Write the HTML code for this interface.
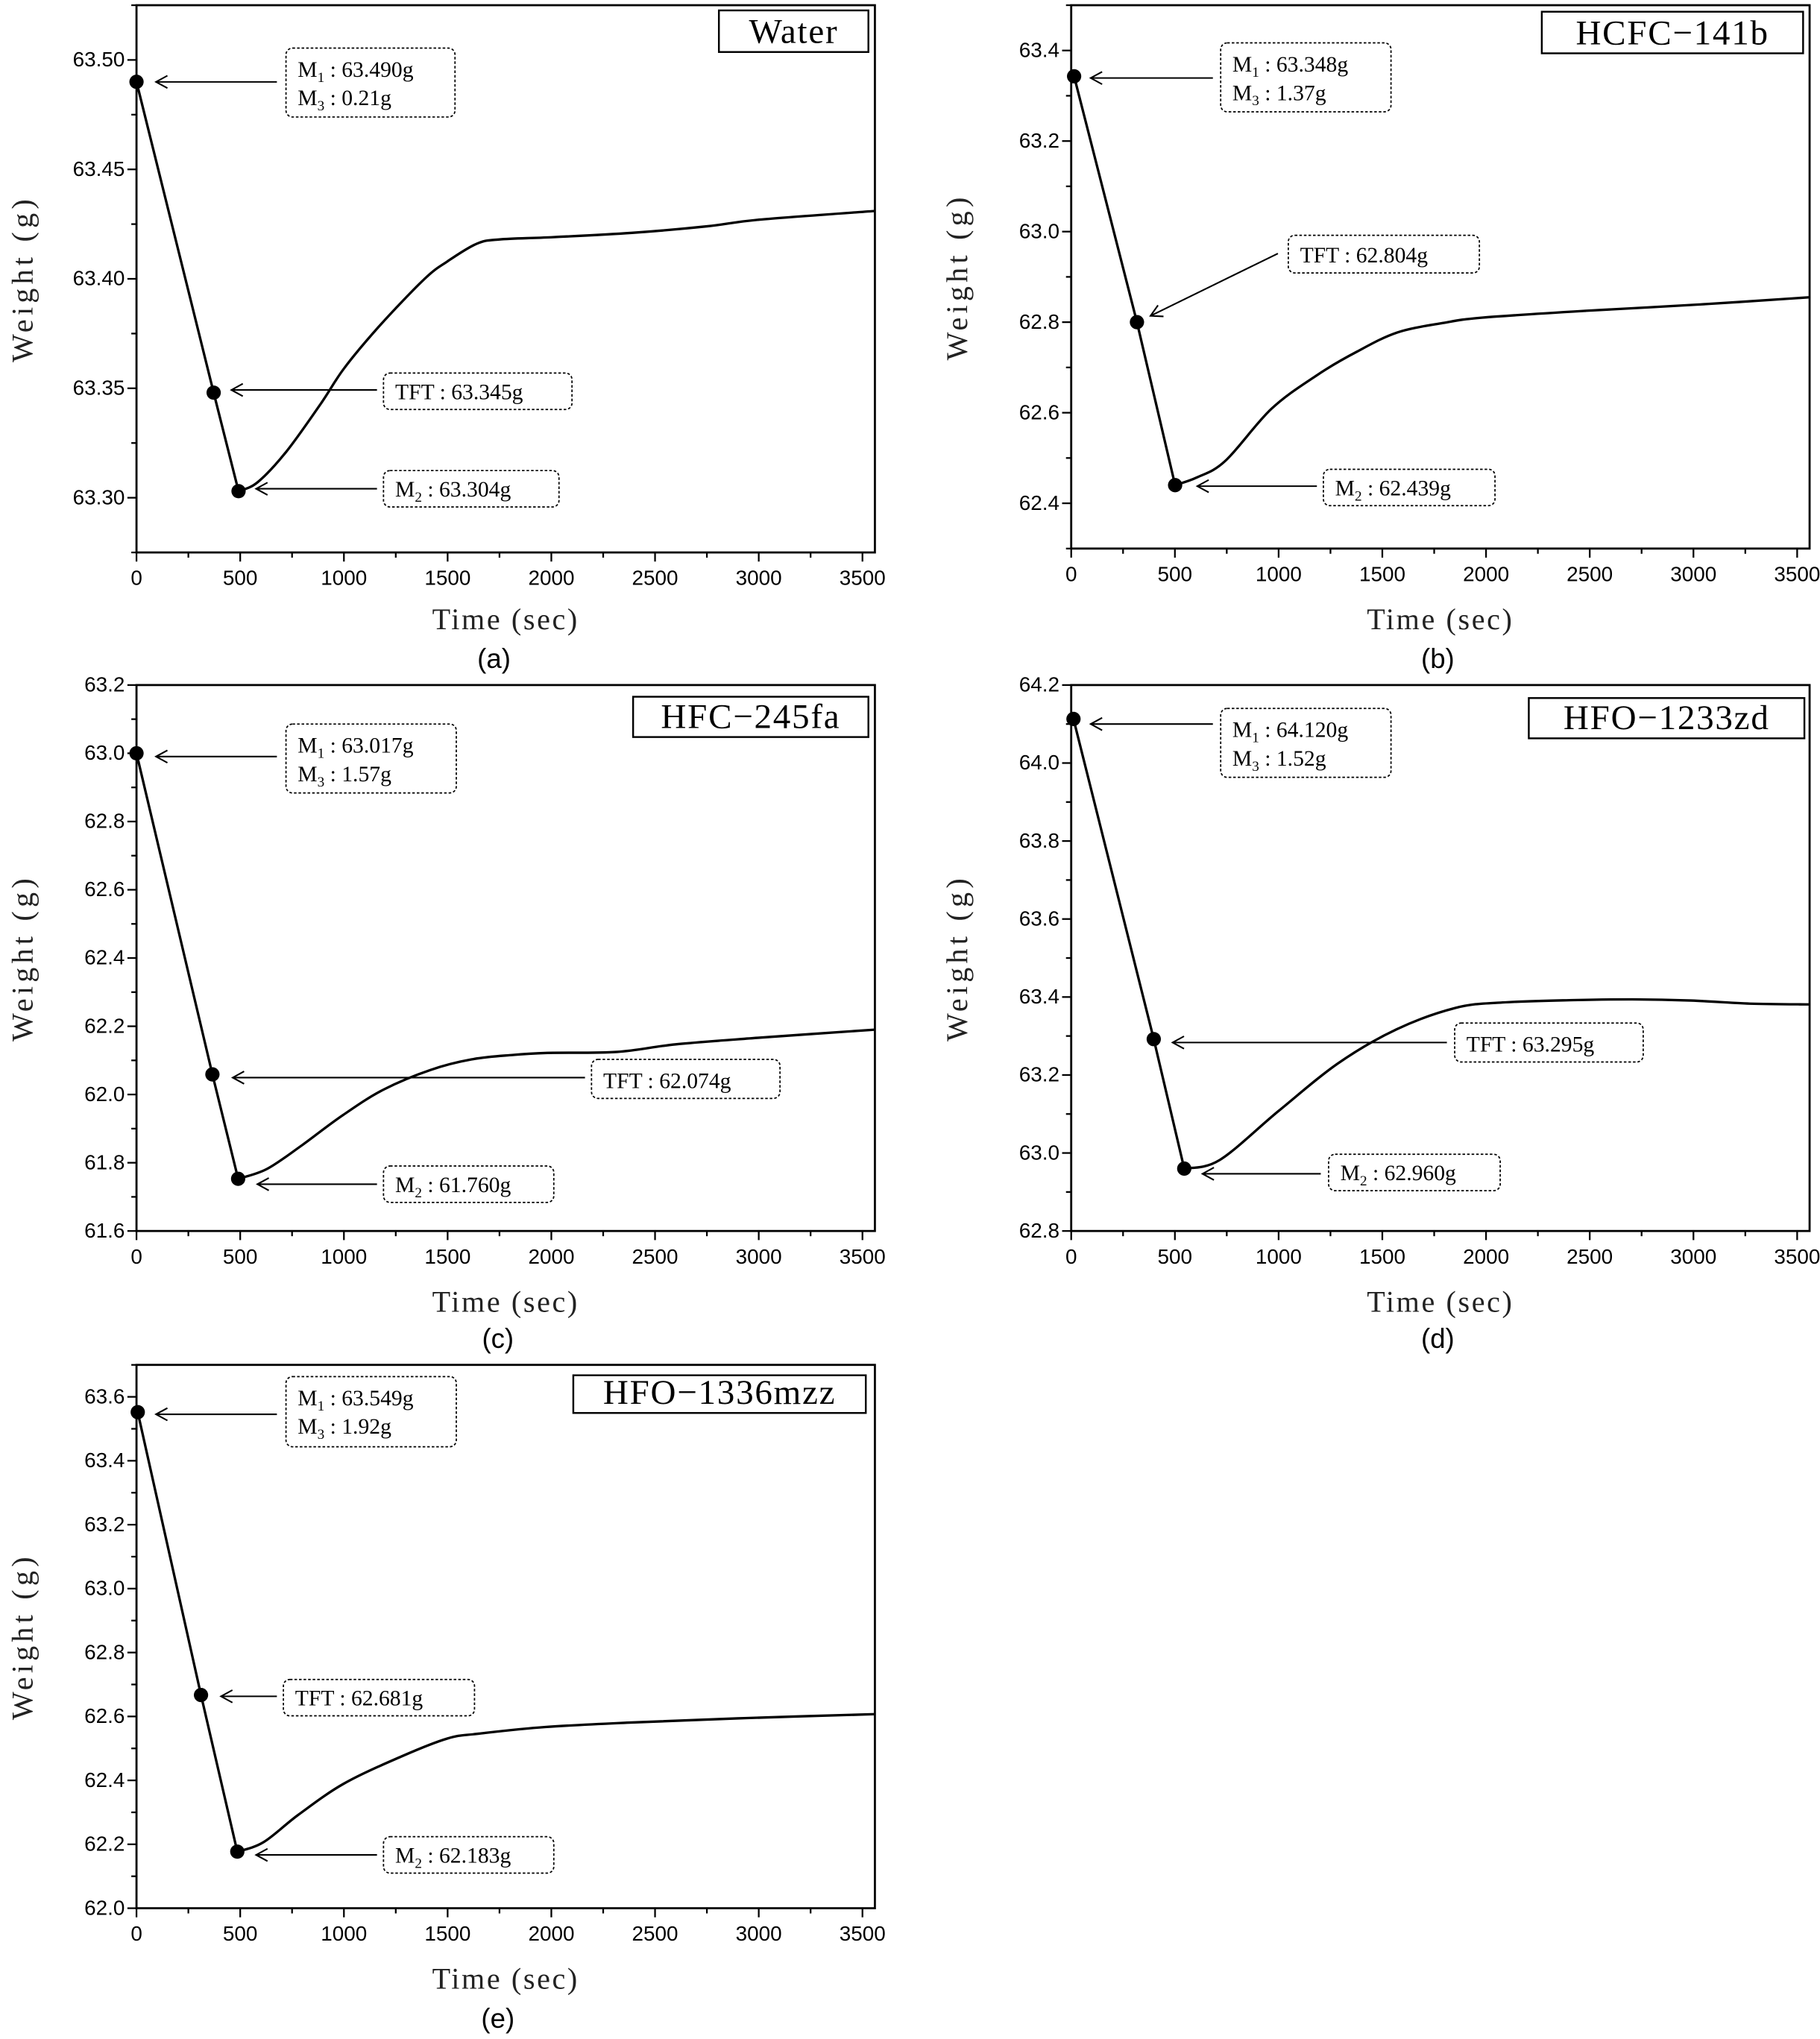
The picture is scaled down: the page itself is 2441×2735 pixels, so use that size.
<!DOCTYPE html>
<html><head><meta charset="utf-8"><style>
html,body{margin:0;padding:0;background:#fff;}
svg{display:block;}
</style></head><body>
<svg id="chart" width="2441" height="2735" viewBox="0 0 1400 1568.6" xmlns="http://www.w3.org/2000/svg"></svg>
<script>
// ---- data (time in sec, weight in g) ----
const aTime   = [0, 372, 492, 583, 722, 889, 1000, 1167, 1389, 1500, 1639, 1750, 2000, 2389, 2750, 3000, 3560];
const aWeight = [63.490, 63.348, 63.303, 63.307, 63.321, 63.343, 63.359, 63.378, 63.400, 63.408, 63.416, 63.418, 63.419, 63.421, 63.424, 63.427, 63.431];
const bTime   = [14, 317, 501, 606, 744, 964, 1185, 1378, 1571, 1791, 1984, 2480, 3031, 3560];
const bWeight = [63.343, 62.800, 62.440, 62.457, 62.494, 62.608, 62.683, 62.735, 62.777, 62.798, 62.810, 62.825, 62.839, 62.855];
const cTime   = [0, 366, 490, 630, 799, 996, 1193, 1418, 1615, 1812, 1981, 2318, 2600, 2994, 3560];
const cWeight = [63.000, 62.059, 61.753, 61.782, 61.852, 61.940, 62.015, 62.072, 62.103, 62.116, 62.122, 62.125, 62.147, 62.166, 62.190];
const dTime   = [11, 398, 545, 716, 1000, 1284, 1568, 1852, 2080, 2420, 2705, 2989, 3273, 3560];
const dWeight = [64.113, 63.292, 62.960, 62.982, 63.108, 63.229, 63.317, 63.372, 63.386, 63.392, 63.394, 63.391, 63.383, 63.381];
const eTime   = [6, 311, 486, 611, 778, 1000, 1278, 1500, 1650, 1972, 2389, 2944, 3560];
const eWeight = [63.552, 62.667, 62.177, 62.206, 62.291, 62.390, 62.475, 62.531, 62.546, 62.567, 62.581, 62.595, 62.607];
const markerIdx = [0, 1, 2];
const xTickLabels = [0, 500, 1000, 1500, 2000, 2500, 3000, 3500];
const aYTicks = [63.30, 63.35, 63.40, 63.45, 63.50];
const bYTicks = [62.4, 62.6, 62.8, 63.0, 63.2, 63.4];
const cYTicks = [61.6, 61.8, 62.0, 62.2, 62.4, 62.6, 62.8, 63.0, 63.2];
const dYTicks = [62.8, 63.0, 63.2, 63.4, 63.6, 63.8, 64.0, 64.2];
const eYTicks = [62.0, 62.2, 62.4, 62.6, 62.8, 63.0, 63.2, 63.4, 63.6];
const aNotes = [["M1 : 63.490g", "M3 : 0.21g"], ["TFT : 63.345g"], ["M2 : 63.304g"]];
const bNotes = [["M1 : 63.348g", "M3 : 1.37g"], ["TFT : 62.804g"], ["M2 : 62.439g"]];
const cNotes = [["M1 : 63.017g", "M3 : 1.57g"], ["TFT : 62.074g"], ["M2 : 61.760g"]];
const dNotes = [["M1 : 64.120g", "M3 : 1.52g"], ["TFT : 63.295g"], ["M2 : 62.960g"]];
const eNotes = [["M1 : 63.549g", "M3 : 1.92g"], ["TFT : 62.681g"], ["M2 : 62.183g"]];

// ---- layout ----
const panels = [
 {id:'a', t:aTime, w:aWeight, yt:aYTicks, notes:aNotes, dec:2, minorStep:0.025, title:'Water',
  box:[105,673,4,425], ymin:63.275, ymax:63.525, legend:[553,668,8,40],
  nbox:[[220,350,37,90],[295,440,287,315],[295,430,362,390]],
  arr:[[213,63,120,63],[290,300,178,300],[290,376,197,376]], cap:[380,507], xt:476},
 {id:'b', t:bTime, w:bWeight, yt:bYTicks, notes:bNotes, dec:1, minorStep:0.1, title:'HCFC\u2212141b',
  box:[824,1392,4,422], ymin:62.3, ymax:63.5, legend:[1186,1387,9,41],
  nbox:[[939,1070,33,86],[991,1138,181,210],[1018,1150,361,389]],
  arr:[[933,60,839,60],[983,195,885,243],[1013,374,921,374]], cap:[1106,507], xt:476},
 {id:'c', t:cTime, w:cWeight, yt:cYTicks, notes:cNotes, dec:1, minorStep:0.1, title:'HFC\u2212245fa',
  box:[105,673,527,947], ymin:61.6, ymax:63.2, legend:[487,668,536,567],
  nbox:[[220,351,557,610],[455,600,815,845],[295,426,897,925]],
  arr:[[213,582,120,582],[450,829,179,829],[290,911,198,911]], cap:[383,1030], xt:1001},
 {id:'d', t:dTime, w:dWeight, yt:dYTicks, notes:dNotes, dec:1, minorStep:0.1, title:'HFO\u22121233zd',
  box:[824,1392,527,947], ymin:62.8, ymax:64.2, legend:[1176,1388,537,568],
  nbox:[[939,1070,545,598],[1119,1264,787,817],[1022,1154,888,916]],
  arr:[[933,557,839,557],[1113,802,902,802],[1016,903,925,903]], cap:[1106,1030], xt:1001},
 {id:'e', t:eTime, w:eWeight, yt:eYTicks, notes:eNotes, dec:1, minorStep:0.1, title:'HFO\u22121336mzz',
  box:[105,673,1050,1468], ymin:62.0, ymax:63.7, legend:[441,666,1058,1087],
  nbox:[[220,351,1059,1113],[218,365,1292,1320],[295,426,1413,1441]],
  arr:[[213,1088,120,1088],[213,1305,170,1305],[290,1427,197,1427]], cap:[383,1553], xt:1522}
];
const XMAX = 3560;
const NS = 'http://www.w3.org/2000/svg';
const svg = document.getElementById('chart');
function mk(tag, attrs, parent){const e=document.createElementNS(NS,tag);for(const k in attrs)e.setAttribute(k,attrs[k]);(parent||svg).appendChild(e);return e;}
function noteText(parent, x, y, s){
  const t = mk('text',{x:x,y:y,'font-family':'Liberation Serif, serif','font-size':17},parent);
  const m = s.match(/^M(\d)(.*)$/);
  if(m){
    t.appendChild(document.createTextNode('M'));
    const sub = mk('tspan',{'font-size':11,dy:4},t); sub.textContent=m[1];
    const rest = mk('tspan',{dy:-4},t); rest.textContent=m[2];
  } else t.textContent=s;
  return t;
}
function smoothPath(P){
  // straight through first 3 (markers), Catmull-Rom afterwards
  let d='M'+P[0][0]+','+P[0][1]+' L'+P[1][0]+','+P[1][1]+' L'+P[2][0]+','+P[2][1];
  for(let i=2;i<P.length-1;i++){
    const p0=P[Math.max(i-1,2)],p1=P[i],p2=P[i+1],p3=P[Math.min(i+2,P.length-1)];
    const c1=[p1[0]+(p2[0]-p0[0])/6,p1[1]+(p2[1]-p0[1])/6];
    const c2=[p2[0]-(p3[0]-p1[0])/6,p2[1]-(p3[1]-p1[1])/6];
    d+=' C'+c1[0].toFixed(1)+','+c1[1].toFixed(1)+' '+c2[0].toFixed(1)+','+c2[1].toFixed(1)+' '+p2[0].toFixed(1)+','+p2[1].toFixed(1);
  }
  return d;
}
panels.forEach(p=>{
  const [x0,x1,y0,y1]=p.box;
  const X = v => x0 + v/XMAX*(x1-x0);
  const Y = v => y1 - (v-p.ymin)/(p.ymax-p.ymin)*(y1-y0);
  const g = mk('g',{});
  
  
  const fr = mk('rect',{x:x0,y:y0,width:x1-x0,height:y1-y0,fill:'none',stroke:'#000','stroke-width':1.6},g);
  
  
  for(let v=0; v<=XMAX; v+=250){
    const major = v%500===0;
    const tk = mk('line',{x1:X(v),x2:X(v),y1:y1,y2:y1+(major?7:4),stroke:'#000','stroke-width':1.3},g);
    
    
  }
  xTickLabels.forEach(v=>{
    const t = mk('text',{x:X(v),y:y1+25,'text-anchor':'middle','font-family':'Liberation Sans, sans-serif','font-size':16},g);
    
    
    t.textContent=v;
  });
  const n = Math.round((p.ymax-p.ymin)/p.minorStep);
  for(let i=0;i<=n;i++){
    const v = p.ymin + i*p.minorStep;
    if(v>p.ymax+1e-9) break;
    const major = p.yt.some(q=>Math.abs(q-v)<1e-6);
    const tk = mk('line',{x1:x0,x2:x0-(major?7:4),y1:Y(v),y2:Y(v),stroke:'#000','stroke-width':1.3},g);
    
    
  }
  p.yt.forEach(v=>{
    const t = mk('text',{x:x0-9,y:Y(v)+5,'text-anchor':'end','font-family':'Liberation Sans, sans-serif','font-size':16},g);
    
    
    t.textContent=v.toFixed(p.dec);
  });
  const xt = mk('text',{x:(x0+x1)/2,y:p.xt+8,'text-anchor':'middle','font-family':'Liberation Serif, serif','font-size':23,'letter-spacing':1.5,fill:'#222'},g);
  
  
  xt.textContent='Time (sec)';
  const yc=(y0+y1)/2, yx=x0-80;
  const yt = mk('text',{x:yx,y:yc,'text-anchor':'middle','font-family':'Liberation Serif, serif','font-size':23,'letter-spacing':3,fill:'#222',transform:'rotate(-90 '+yx+' '+yc+')'},g);
  
  
  yt.textContent='Weight (g)';
  const cap = mk('text',{x:p.cap[0],y:p.cap[1]+7,'text-anchor':'middle','font-family':'Liberation Sans, sans-serif','font-size':21},g);
  
  
  cap.textContent='('+p.id+')';
  const [lx0,lx1,ly0,ly1]=p.legend;
  const lg = mk('g',{},g);
  
  
  mk('rect',{x:lx0,y:ly0,width:lx1-lx0,height:ly1-ly0,fill:'#fff',stroke:'#000','stroke-width':1.4},lg);
  const lt = mk('text',{x:(lx0+lx1)/2,y:ly1-7,'text-anchor':'middle','font-family':'Liberation Serif, serif','font-size':27,'letter-spacing':1},lg);
  lt.textContent=p.title;
  const P = p.t.map((tv,i)=>[X(tv),Y(p.w[i])]);
  const line = mk('path',{d:smoothPath(P),fill:'none',stroke:'#000','stroke-width':1.9,'stroke-linejoin':'round'},g);
  
  
  markerIdx.forEach(i=>{
    const c = mk('circle',{cx:X(p.t[i]),cy:Y(p.w[i]),r:5.5,fill:'#000'},g);
    
    
  });
  p.nbox.forEach((b,k)=>{
    const ag = mk('g',{},g);
    
    
    mk('rect',{x:b[0],y:b[2],width:b[1]-b[0],height:b[3]-b[2],rx:5,fill:'#fff',stroke:'#000','stroke-width':1,'stroke-dasharray':'2,1.5'},ag);
    const lines=p.notes[k];
    if(lines.length===2){
      noteText(ag,b[0]+9,b[2]+22,lines[0]);
      noteText(ag,b[0]+9,b[2]+44,lines[1]);
    } else noteText(ag,b[0]+9,b[3]-8,lines[0]);
    const a=p.arr[k];
    const ar = mk('g',{},g);
    
    
    mk('line',{x1:a[0],y1:a[1],x2:a[2],y2:a[3],stroke:'#000','stroke-width':1.2},ar);
    const ang=Math.atan2(a[1]-a[3],a[0]-a[2]);
    const L=10,W=0.5;
    const p1=[a[2]+L*Math.cos(ang+W),a[3]+L*Math.sin(ang+W)];
    const p2=[a[2]+L*Math.cos(ang-W),a[3]+L*Math.sin(ang-W)];
    mk('polyline',{points:p1.join(',')+' '+a[2]+','+a[3]+' '+p2.join(','),fill:'none',stroke:'#000','stroke-width':1.2},ar);
  });
});
</script>
</body></html>
